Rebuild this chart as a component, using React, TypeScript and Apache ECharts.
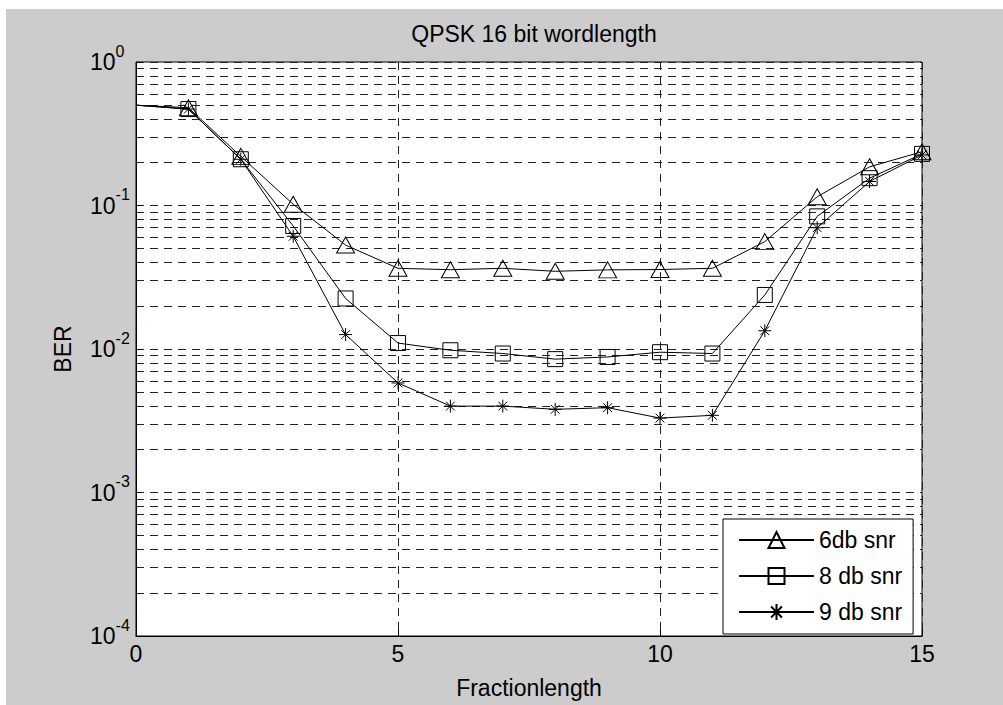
import React, { useEffect, useRef } from "react";
import * as echarts from "echarts";

const xValues = [0, 1, 2, 3, 4, 5, 6, 7, 8, 9, 10, 11, 12, 13, 14, 15];
const ber6db = [0.5, 0.48, 0.22, 0.102, 0.053, 0.0365, 0.0357, 0.0365, 0.0348, 0.0356, 0.0358, 0.0365, 0.056, 0.115, 0.186, 0.237];
const ber8db = [0.5, 0.47, 0.21, 0.072, 0.0225, 0.011, 0.0098, 0.0093, 0.0085, 0.0088, 0.0095, 0.0093, 0.0238, 0.084, 0.155, 0.229];
const ber9db = [0.5, 0.47, 0.21, 0.061, 0.0126, 0.0058, 0.0040, 0.0040, 0.0038, 0.0039, 0.0033, 0.00345, 0.0134, 0.070, 0.147, 0.225];
const seriesNames = ["6db snr", "8 db snr", "9 db snr"];
const decades = [-4, -3, -2, -1];
const minorMultipliers = [2, 3, 4, 5, 6, 7, 8, 9];
const xTicks = [0, 5, 10, 15];

const FONT = "Liberation Sans, Arial, sans-serif";
const STAR = "path://M5,0L5,10M0,5L10,5M1.6,1.6L8.4,8.4M8.4,1.6L1.6,8.4";

function buildData(values: number[]) {
  return xValues.map((x, i) =>
    i === 0 ? { value: [x, values[i]], symbol: "none" } : { value: [x, values[i]] }
  );
}

export default function App() {
  const ref = useRef<HTMLDivElement>(null);
  useEffect(() => {
    if (!ref.current) return;
    const chart = echarts.init(ref.current, undefined, { renderer: "svg" });
    const minorLines: any[] = [];
    decades.forEach((d) =>
      minorMultipliers.forEach((m) => minorLines.push({ yAxis: m * Math.pow(10, d) }))
    );
    const markerStyle = { color: "rgba(0,0,0,0)", borderColor: "#000", borderWidth: 1 };
    const mk = (name: string, values: number[], symbol: string, size: any) => ({
      name,
      type: "line",
      data: buildData(values),
      symbol,
      symbolSize: size,
      showAllSymbol: true,
      lineStyle: { color: "#000", width: 1 },
      itemStyle: markerStyle,
      emphasis: { disabled: true },
      silent: true,
      z: 5,
    });
    chart.setOption({
      animation: false,
      backgroundColor: "#cccccc",
      textStyle: { fontFamily: FONT },
      title: {
        text: "QPSK 16 bit wordlength",
        left: 523,
        top: 8,
        textAlign: "center",
        textStyle: { fontFamily: FONT, fontSize: 23, fontWeight: "normal", color: "#000" },
      },
      grid: {
        left: 130,
        top: 53,
        right: 81,
        bottom: 69,
        show: true,
        backgroundColor: "#fff",
        borderColor: "#000",
        borderWidth: 1,
      },
      legend: {
        left: 717,
        top: 510,
        z: 50,
        zlevel: 0,
        orient: "vertical",
        data: seriesNames,
        itemWidth: 75,
        itemHeight: 20,
        itemGap: 10,
        padding: [8, 11, 9, 15],
        backgroundColor: "#fff",
        borderColor: "#000",
        borderWidth: 1,
        textStyle: { fontFamily: FONT, fontSize: 23, color: "#000", lineHeight: 26 },
        selectedMode: false,
      },
      xAxis: {
        type: "value",
        min: 0,
        max: 15,
        interval: 5,
        name: "Fractionlength",
        nameLocation: "middle",
        nameGap: 40,
        nameTextStyle: { fontFamily: FONT, fontSize: 23, color: "#000" },
        axisLine: { show: true, lineStyle: { color: "#000", width: 1 } },
        axisTick: { show: true, inside: true, length: 6, lineStyle: { color: "#000" } },
        axisLabel: {
          fontFamily: FONT,
          fontSize: 23,
          color: "#000",
          margin: 6,
          formatter: (v: number) => (xTicks.includes(v) ? String(v) : ""),
        },
        splitLine: { show: true, lineStyle: { color: "#222", type: [8, 6], width: 1 } },
      },
      yAxis: {
        type: "log",
        logBase: 10,
        min: 1e-4,
        max: 1,
        name: "BER",
        nameLocation: "middle",
        nameGap: 62,
        nameTextStyle: { fontFamily: FONT, fontSize: 23, color: "#000" },
        axisLine: { show: true, lineStyle: { color: "#000", width: 1 } },
        axisTick: { show: true, inside: true, length: 6, lineStyle: { color: "#000" } },
        axisLabel: {
          align: "left",
          margin: 46,
          formatter: (v: number) => {
            const e = Math.round(Math.log10(v));
            return "{b|10}{s|" + e + "}";
          },
          rich: {
            b: { fontFamily: FONT, fontSize: 23, color: "#000", lineHeight: 38 },
            s: { fontFamily: FONT, fontSize: 16, color: "#000", verticalAlign: "top", lineHeight: 18 },
          },
        },
        splitLine: { show: true, lineStyle: { color: "#222", type: [8, 6], width: 1 } },
      },
      series: [
        {
          name: "grid-minor",
          type: "line",
          data: [],
          silent: true,
          z: 1,
          markLine: {
            silent: true,
            precision: 8,
            z: 1,
            symbol: ["none", "none"],
            label: { show: false },
            lineStyle: { color: "#222", type: [8, 6], width: 1 },
            emphasis: { disabled: true },
            data: minorLines,
          },
        },
        mk(seriesNames[0], ber6db, "triangle", [18, 16]),
        mk(seriesNames[1], ber8db, "rect", 15),
        mk(seriesNames[2], ber9db, STAR, 13),
      ],
    });
    return () => chart.dispose();
  }, []);
  return (
    <div
      ref={ref}
      style={{ position: "absolute", left: 6, top: 9, width: 997, height: 696 }}
    />
  );
}
